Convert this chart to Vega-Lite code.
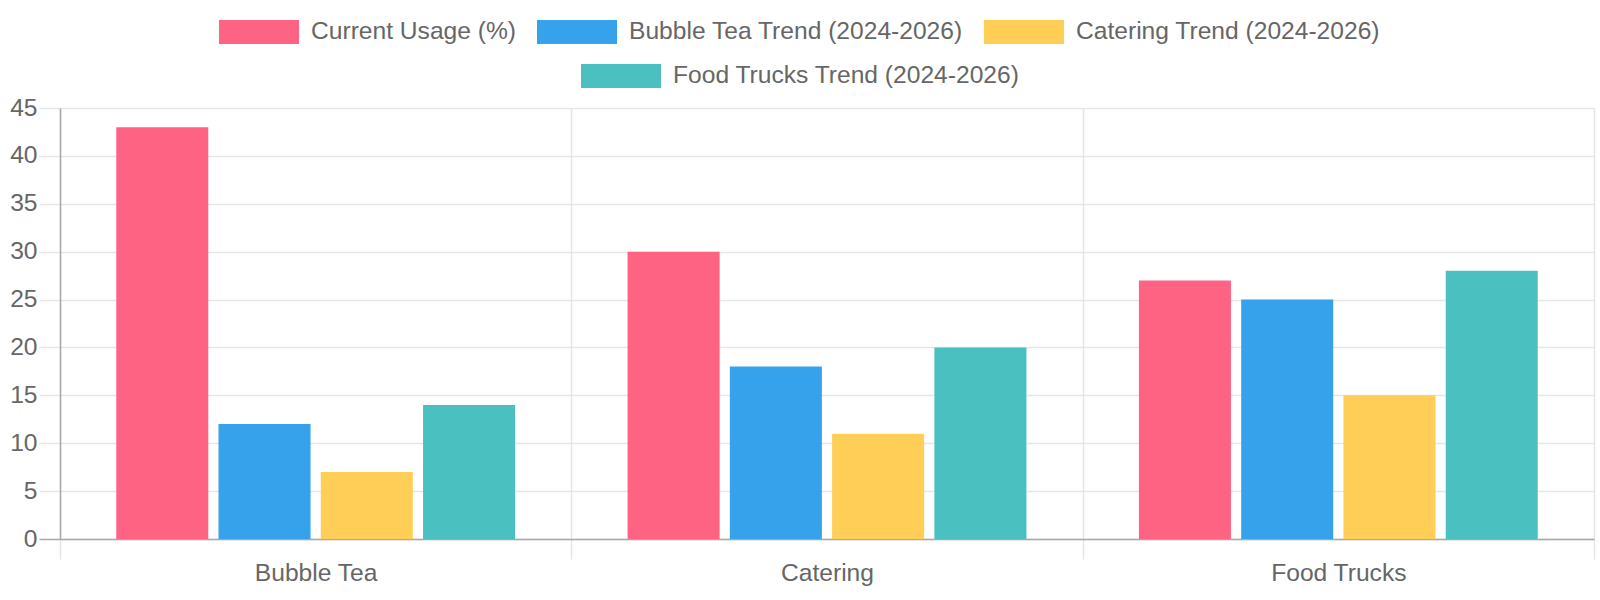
{
  "$schema": "https://vega.github.io/schema/vega-lite/v6.json",
  "width": 1534,
  "height": 431,
  "autosize": {"type": "none"},
  "padding": {"left": 60, "top": 108, "right": 6, "bottom": 61},
  "background": "#ffffff",
  "view": {"stroke": null},
  "data": {
    "values": [
      {"category": "Bubble Tea", "series": "Current Usage (%)", "value": 43},
      {"category": "Bubble Tea", "series": "Bubble Tea Trend (2024-2026)", "value": 12},
      {"category": "Bubble Tea", "series": "Catering Trend (2024-2026)", "value": 7},
      {"category": "Bubble Tea", "series": "Food Trucks Trend (2024-2026)", "value": 14},
      {"category": "Catering", "series": "Current Usage (%)", "value": 30},
      {"category": "Catering", "series": "Bubble Tea Trend (2024-2026)", "value": 18},
      {"category": "Catering", "series": "Catering Trend (2024-2026)", "value": 11},
      {"category": "Catering", "series": "Food Trucks Trend (2024-2026)", "value": 20},
      {"category": "Food Trucks", "series": "Current Usage (%)", "value": 27},
      {"category": "Food Trucks", "series": "Bubble Tea Trend (2024-2026)", "value": 25},
      {"category": "Food Trucks", "series": "Catering Trend (2024-2026)", "value": 15},
      {"category": "Food Trucks", "series": "Food Trucks Trend (2024-2026)", "value": 28}
    ]
  },
  "encoding": {
    "x": {
      "field": "category",
      "type": "nominal",
      "sort": null,
      "scale": {"paddingInner": 0, "paddingOuter": 0},
      "axis": {
        "title": null,
        "labelAngle": 0,
        "tickBand": "extent",
        "grid": true,
        "gridColor": "#e5e5e5",
        "tickColor": "#e5e5e5",
        "tickSize": 20,
        "labelPadding": 2,
        "domainColor": "#a8a8a8"
      }
    },
    "xOffset": {
      "field": "series",
      "type": "nominal",
      "sort": null,
      "scale": {
        "domain": ["Current Usage (%)", "Bubble Tea Trend (2024-2026)", "Catering Trend (2024-2026)", "Food Trucks Trend (2024-2026)"],
        "paddingInner": 0.1,
        "paddingOuter": 0.55
      }
    },
    "y": {
      "field": "value",
      "type": "quantitative",
      "scale": {"domain": [0, 45], "nice": false},
      "axis": {
        "title": null,
        "values": [0, 5, 10, 15, 20, 25, 30, 35, 40, 45],
        "grid": true,
        "gridColor": "#e5e5e5",
        "tickColor": {"condition": {"test": "datum.value === 0", "value": "#a8a8a8"}, "value": "#e5e5e5"},
        "tickSize": 21,
        "labelPadding": 2,
        "domainColor": "#a8a8a8"
      }
    }
  },
  "layer": [
    {
      "transform": [{"filter": "datum.series !== 'Food Trucks Trend (2024-2026)'"}],
      "mark": {"type": "bar"},
      "encoding": {
        "color": {
          "field": "series",
          "type": "nominal",
          "sort": null,
          "scale": {
            "domain": ["Current Usage (%)", "Bubble Tea Trend (2024-2026)", "Catering Trend (2024-2026)"],
            "range": ["#ff6384", "#36a2eb", "#ffce56"]
          },
          "legend": {"title": null, "orient": "none", "direction": "horizontal", "legendX": 159, "legendY": -116}
        }
      }
    },
    {
      "transform": [{"filter": "datum.series === 'Food Trucks Trend (2024-2026)'"}],
      "mark": {"type": "bar"},
      "encoding": {
        "color": {
          "field": "series",
          "type": "nominal",
          "scale": {
            "domain": ["Food Trucks Trend (2024-2026)"],
            "range": ["#4bc0c0"]
          },
          "legend": {"title": null, "orient": "none", "direction": "horizontal", "legendX": 521, "legendY": -72}
        }
      }
    }
  ],
  "resolve": {"scale": {"color": "independent"}, "legend": {"color": "independent"}},
  "config": {
    "font": "Liberation Sans",
    "axis": {
      "labelFont": "Liberation Sans",
      "labelFontSize": 24.6,
      "labelColor": "#666666",
      "domainWidth": 1.5,
      "gridWidth": 1.5,
      "tickWidth": 1.5
    },
    "legend": {
      "labelFont": "Liberation Sans",
      "labelFontSize": 24.6,
      "labelColor": "#666666",
      "labelLimit": 0,
      "symbolType": "M-1,-0.3H1V0.3H-1Z",
      "symbolSize": 6400,
      "symbolStrokeWidth": 0,
      "symbolOpacity": 1,
      "labelOffset": 12,
      "columnPadding": 20
    }
  }
}
